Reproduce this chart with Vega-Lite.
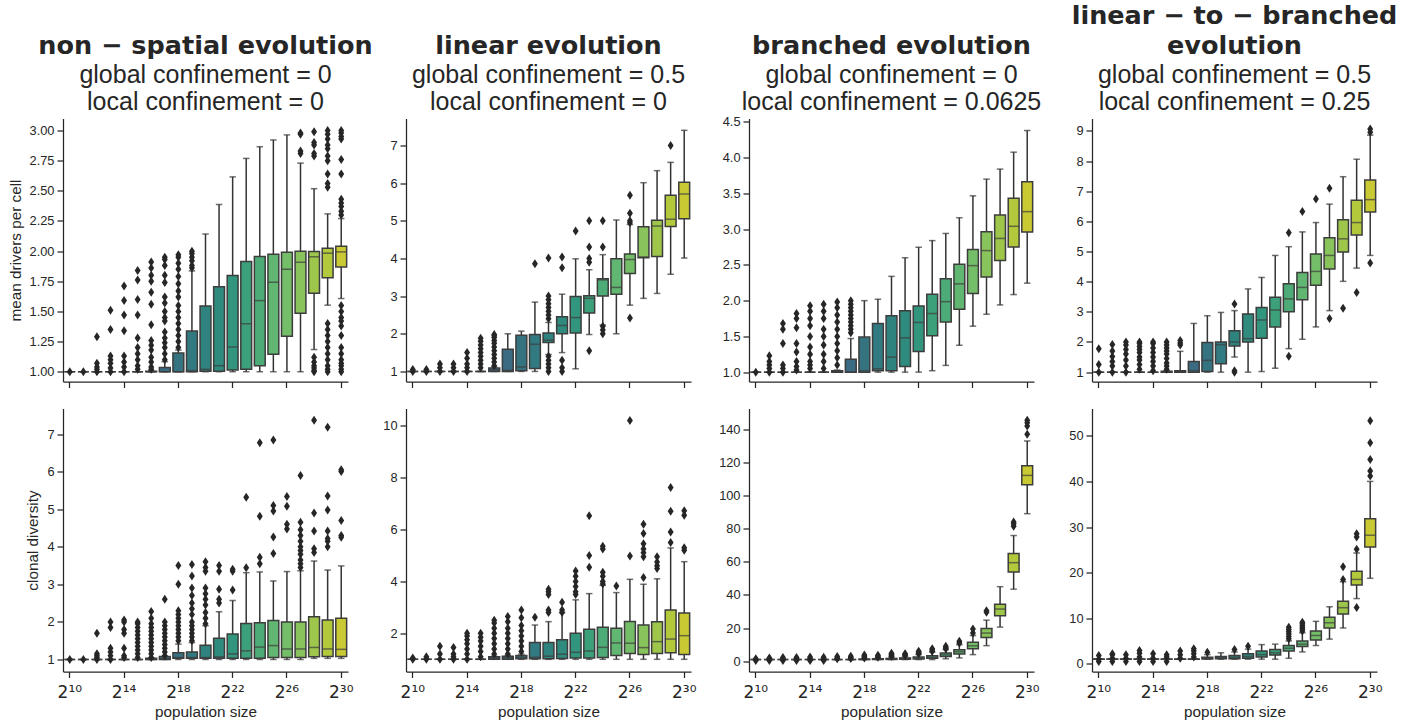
{
"$schema": "https://vega.github.io/schema/vega-lite/v6.json",
"background": "white",
"padding": {"left": 8, "top": 3.5, "right": 5, "bottom": 2},
"columns": 4,
"spacing": {"row": 27, "column": 58},
"bounds": "flush",
"resolve": {"scale": {"x": "independent", "y": "independent"}},
"config": {
 "font": "Liberation Sans",
 "view": {"stroke": null},
 "axis": {"grid": false, "labelOverlap": false, "domainColor": "#262626", "tickColor": "#262626", "labelColor": "#262626", "titleColor": "#262626", "domainWidth": 1.25, "tickWidth": 1.25, "tickSize": 6, "labelFont": "Liberation Sans", "titleFont": "Liberation Sans", "titleFontWeight": "normal", "labelFontSize": 12.8, "titleFontSize": 15.3},
 "axisY": {"labelPadding": 3, "titlePadding": 6},
 "axisX": {"labelPadding": 7, "titlePadding": 4},
 "title": {"font": "DejaVu Sans", "fontSize": 25.5, "fontWeight": "bold", "color": "#262626", "lineHeight": 30, "subtitleFont": "Liberation Sans", "subtitleFontSize": 25, "subtitleColor": "#262626", "subtitleLineHeight": 27, "subtitlePadding": 3, "offset": 0, "anchor": "middle", "frame": "group"}
},
"datasets": {
"boxes": [
{"p":1,"n":10,"lo":1,"q1":1,"md":1,"q3":1,"hi":1},{"p":1,"n":11,"lo":1,"q1":1,"md":1,"q3":1,"hi":1},{"p":1,"n":12,"lo":1,"q1":1,"md":1,"q3":1,"hi":1},{"p":1,"n":13,"lo":1,"q1":1,"md":1,"q3":1,"hi":1},{"p":1,"n":14,"lo":1,"q1":1,"md":1,"q3":1,"hi":1},{"p":1,"n":15,"lo":1,"q1":1,"md":1,"q3":1,"hi":1},{"p":1,"n":16,"lo":1,"q1":1,"md":1,"q3":1.003,"hi":1.01},{"p":1,"n":17,"lo":1,"q1":1,"md":1,"q3":1.036,"hi":1.084},{"p":1,"n":18,"lo":1,"q1":1,"md":1,"q3":1.155,"hi":1.18},{"p":1,"n":19,"lo":1,"q1":1,"md":1.01,"q3":1.337,"hi":1.836},{"p":1,"n":20,"lo":1,"q1":1.005,"md":1.02,"q3":1.545,"hi":2.142},{"p":1,"n":21,"lo":1,"q1":1.005,"md":1.05,"q3":1.705,"hi":2.387},{"p":1,"n":22,"lo":1,"q1":1.015,"md":1.205,"q3":1.797,"hi":2.616},{"p":1,"n":23,"lo":1,"q1":1.02,"md":1.398,"q3":1.914,"hi":2.769},{"p":1,"n":24,"lo":1,"q1":1.05,"md":1.59,"q3":1.955,"hi":2.866},{"p":1,"n":25,"lo":1,"q1":1.145,"md":1.742,"q3":1.975,"hi":2.922},{"p":1,"n":26,"lo":1,"q1":1.295,"md":1.85,"q3":1.99,"hi":2.964},{"p":1,"n":27,"lo":1,"q1":1.485,"md":1.908,"q3":2.0,"hi":2.73},{"p":1,"n":28,"lo":1.184,"q1":1.65,"md":1.953,"q3":1.997,"hi":2.518},{"p":1,"n":29,"lo":1.552,"q1":1.78,"md":1.983,"q3":2.025,"hi":2.309},{"p":1,"n":30,"lo":1.607,"q1":1.869,"md":1.994,"q3":2.04,"hi":2.27},
{"p":2,"n":10,"lo":1,"q1":1,"md":1,"q3":1,"hi":1},{"p":2,"n":11,"lo":1,"q1":1,"md":1,"q3":1,"hi":1},{"p":2,"n":12,"lo":1,"q1":1,"md":1,"q3":1,"hi":1},{"p":2,"n":13,"lo":1,"q1":1,"md":1,"q3":1,"hi":1},{"p":2,"n":14,"lo":1,"q1":1,"md":1,"q3":1,"hi":1},{"p":2,"n":15,"lo":1,"q1":1,"md":1,"q3":1,"hi":1},{"p":2,"n":16,"lo":1,"q1":1,"md":1.04,"q3":1.09,"hi":1.12},{"p":2,"n":17,"lo":1,"q1":1,"md":1.03,"q3":1.59,"hi":2.0},{"p":2,"n":18,"lo":1,"q1":1.02,"md":1.12,"q3":1.96,"hi":2.07},{"p":2,"n":19,"lo":1,"q1":1.08,"md":1.72,"q3":1.98,"hi":2.84},{"p":2,"n":20,"lo":1.45,"q1":1.77,"md":1.83,"q3":2.02,"hi":2.3},{"p":2,"n":21,"lo":1.5,"q1":2.0,"md":2.22,"q3":2.45,"hi":3.05},{"p":2,"n":22,"lo":1.07,"q1":2.02,"md":2.43,"q3":2.99,"hi":3.99},{"p":2,"n":23,"lo":1.98,"q1":2.55,"md":2.94,"q3":3.01,"hi":3.7},{"p":2,"n":24,"lo":2.23,"q1":3.0,"md":3.43,"q3":3.46,"hi":4.1},{"p":2,"n":25,"lo":2.0,"q1":3.05,"md":3.23,"q3":3.99,"hi":5.02},{"p":2,"n":26,"lo":2.76,"q1":3.6,"md":3.97,"q3":4.12,"hi":4.9},{"p":2,"n":27,"lo":2.94,"q1":4.02,"md":4.04,"q3":4.84,"hi":6.01},{"p":2,"n":28,"lo":3.07,"q1":4.05,"md":4.86,"q3":5.01,"hi":6.33},{"p":2,"n":29,"lo":3.58,"q1":4.85,"md":5.04,"q3":5.68,"hi":6.55},{"p":2,"n":30,"lo":4.01,"q1":5.05,"md":5.71,"q3":6.02,"hi":7.4},
{"p":3,"n":10,"lo":1,"q1":1,"md":1,"q3":1,"hi":1},{"p":3,"n":11,"lo":1,"q1":1,"md":1,"q3":1,"hi":1},{"p":3,"n":12,"lo":1,"q1":1,"md":1,"q3":1,"hi":1},{"p":3,"n":13,"lo":1,"q1":1,"md":1,"q3":1,"hi":1},{"p":3,"n":14,"lo":1,"q1":1,"md":1,"q3":1,"hi":1},{"p":3,"n":15,"lo":1,"q1":1,"md":1,"q3":1,"hi":1},{"p":3,"n":16,"lo":1,"q1":1,"md":1,"q3":1.02,"hi":1.03},{"p":3,"n":17,"lo":1,"q1":1,"md":1,"q3":1.18,"hi":1.47},{"p":3,"n":18,"lo":1,"q1":1,"md":1.02,"q3":1.49,"hi":2.0},{"p":3,"n":19,"lo":1,"q1":1.02,"md":1.047,"q3":1.68,"hi":2.02},{"p":3,"n":20,"lo":1,"q1":1.02,"md":1.21,"q3":1.79,"hi":2.34},{"p":3,"n":21,"lo":1,"q1":1.08,"md":1.48,"q3":1.86,"hi":2.6},{"p":3,"n":22,"lo":1,"q1":1.29,"md":1.695,"q3":1.925,"hi":2.747},{"p":3,"n":23,"lo":1.02,"q1":1.51,"md":1.82,"q3":2.09,"hi":2.84},{"p":3,"n":24,"lo":1.094,"q1":1.7,"md":1.986,"q3":2.305,"hi":2.94},{"p":3,"n":25,"lo":1.376,"q1":1.88,"md":2.235,"q3":2.51,"hi":3.16},{"p":3,"n":26,"lo":1.643,"q1":2.1,"md":2.49,"q3":2.714,"hi":3.466},{"p":3,"n":27,"lo":1.81,"q1":2.33,"md":2.7,"q3":2.963,"hi":3.7},{"p":3,"n":28,"lo":1.94,"q1":2.56,"md":2.87,"q3":3.198,"hi":3.84},{"p":3,"n":29,"lo":2.085,"q1":2.75,"md":3.04,"q3":3.433,"hi":4.077},{"p":3,"n":30,"lo":2.245,"q1":2.959,"md":3.245,"q3":3.663,"hi":4.38},
{"p":4,"n":10,"lo":1,"q1":1,"md":1,"q3":1,"hi":1},{"p":4,"n":11,"lo":1,"q1":1,"md":1,"q3":1,"hi":1},{"p":4,"n":12,"lo":1,"q1":1,"md":1,"q3":1,"hi":1},{"p":4,"n":13,"lo":1,"q1":1,"md":1,"q3":1,"hi":1},{"p":4,"n":14,"lo":1,"q1":1,"md":1,"q3":1,"hi":1},{"p":4,"n":15,"lo":1,"q1":1,"md":1,"q3":1.03,"hi":1.05},{"p":4,"n":16,"lo":1,"q1":1,"md":1.02,"q3":1.05,"hi":1.69},{"p":4,"n":17,"lo":1,"q1":1,"md":1.05,"q3":1.356,"hi":2.615},{"p":4,"n":18,"lo":1,"q1":1.02,"md":1.39,"q3":1.98,"hi":2.87},{"p":4,"n":19,"lo":1,"q1":1.28,"md":1.91,"q3":2.0,"hi":2.98},{"p":4,"n":20,"lo":1.5,"q1":1.87,"md":2.0,"q3":2.37,"hi":3.04},{"p":4,"n":21,"lo":1,"q1":2.0,"md":2.11,"q3":2.93,"hi":3.76},{"p":4,"n":22,"lo":1.02,"q1":2.12,"md":2.73,"q3":3.14,"hi":4.14},{"p":4,"n":23,"lo":1.13,"q1":2.5,"md":3.06,"q3":3.48,"hi":4.87},{"p":4,"n":24,"lo":1.78,"q1":3.0,"md":3.43,"q3":3.93,"hi":5.16},{"p":4,"n":25,"lo":2.09,"q1":3.4,"md":3.81,"q3":4.3,"hi":5.65},{"p":4,"n":26,"lo":2.5,"q1":3.88,"md":4.34,"q3":4.92,"hi":5.96},{"p":4,"n":27,"lo":3.04,"q1":4.42,"md":4.87,"q3":5.46,"hi":6.57},{"p":4,"n":28,"lo":4.01,"q1":4.98,"md":5.42,"q3":6.05,"hi":7.48},{"p":4,"n":29,"lo":4.45,"q1":5.55,"md":5.96,"q3":6.7,"hi":8.06},{"p":4,"n":30,"lo":4.87,"q1":6.31,"md":6.72,"q3":7.37,"hi":8.86},
{"p":5,"n":10,"lo":1,"q1":1,"md":1,"q3":1,"hi":1},{"p":5,"n":11,"lo":1,"q1":1,"md":1,"q3":1,"hi":1},{"p":5,"n":12,"lo":1,"q1":1,"md":1,"q3":1,"hi":1},{"p":5,"n":13,"lo":1,"q1":1,"md":1,"q3":1,"hi":1},{"p":5,"n":14,"lo":1,"q1":1,"md":1,"q3":1,"hi":1},{"p":5,"n":15,"lo":1,"q1":1,"md":1,"q3":1,"hi":1},{"p":5,"n":16,"lo":1,"q1":1,"md":1,"q3":1.03,"hi":1.04},{"p":5,"n":17,"lo":1,"q1":1,"md":1.02,"q3":1.08,"hi":1.09},{"p":5,"n":18,"lo":1,"q1":1.03,"md":1.05,"q3":1.18,"hi":1.41},{"p":5,"n":19,"lo":1,"q1":1.03,"md":1.05,"q3":1.2,"hi":1.45},{"p":5,"n":20,"lo":1,"q1":1.03,"md":1.05,"q3":1.38,"hi":1.9},{"p":5,"n":21,"lo":1,"q1":1.03,"md":1.07,"q3":1.565,"hi":2.27},{"p":5,"n":22,"lo":1,"q1":1.03,"md":1.15,"q3":1.68,"hi":2.57},{"p":5,"n":23,"lo":1,"q1":1.03,"md":1.23,"q3":1.96,"hi":3.31},{"p":5,"n":24,"lo":1,"q1":1.03,"md":1.33,"q3":1.98,"hi":3.33},{"p":5,"n":25,"lo":1,"q1":1.05,"md":1.37,"q3":2.04,"hi":3.09},{"p":5,"n":26,"lo":1,"q1":1.05,"md":1.28,"q3":2.0,"hi":3.34},{"p":5,"n":27,"lo":1,"q1":1.05,"md":1.28,"q3":2.0,"hi":3.36},{"p":5,"n":28,"lo":1.03,"q1":1.07,"md":1.32,"q3":2.14,"hi":3.62},{"p":5,"n":29,"lo":1.03,"q1":1.08,"md":1.28,"q3":2.05,"hi":3.38},{"p":5,"n":30,"lo":1.03,"q1":1.08,"md":1.27,"q3":2.1,"hi":3.49},
{"p":6,"n":10,"lo":1,"q1":1,"md":1,"q3":1,"hi":1},{"p":6,"n":11,"lo":1,"q1":1,"md":1,"q3":1,"hi":1},{"p":6,"n":12,"lo":1,"q1":1,"md":1,"q3":1,"hi":1},{"p":6,"n":13,"lo":1,"q1":1,"md":1,"q3":1,"hi":1},{"p":6,"n":14,"lo":1,"q1":1,"md":1,"q3":1,"hi":1},{"p":6,"n":15,"lo":1,"q1":1,"md":1,"q3":1,"hi":1},{"p":6,"n":16,"lo":1,"q1":1,"md":1.05,"q3":1.1,"hi":1.12},{"p":6,"n":17,"lo":1,"q1":1,"md":1.06,"q3":1.12,"hi":1.15},{"p":6,"n":18,"lo":1,"q1":1.02,"md":1.08,"q3":1.15,"hi":1.2},{"p":6,"n":19,"lo":1,"q1":1.02,"md":1.08,"q3":1.65,"hi":2.32},{"p":6,"n":20,"lo":1,"q1":1.02,"md":1.12,"q3":1.65,"hi":2.45},{"p":6,"n":21,"lo":1,"q1":1.03,"md":1.2,"q3":1.75,"hi":2.8},{"p":6,"n":22,"lo":1,"q1":1.05,"md":1.27,"q3":2.0,"hi":3.29},{"p":6,"n":23,"lo":1,"q1":1.05,"md":1.32,"q3":2.16,"hi":3.53},{"p":6,"n":24,"lo":1,"q1":1.07,"md":1.46,"q3":2.23,"hi":3.85},{"p":6,"n":25,"lo":1,"q1":1.15,"md":1.63,"q3":2.2,"hi":3.57},{"p":6,"n":26,"lo":1,"q1":1.22,"md":1.62,"q3":2.46,"hi":4.08},{"p":6,"n":27,"lo":1,"q1":1.18,"md":1.45,"q3":2.32,"hi":3.89},{"p":6,"n":28,"lo":1,"q1":1.22,"md":1.68,"q3":2.45,"hi":4.1},{"p":6,"n":29,"lo":1,"q1":1.25,"md":1.78,"q3":2.9,"hi":5.29},{"p":6,"n":30,"lo":1,"q1":1.18,"md":1.91,"q3":2.78,"hi":4.76},
{"p":7,"n":10,"lo":1,"q1":1,"md":1,"q3":1,"hi":1},{"p":7,"n":11,"lo":1,"q1":1,"md":1,"q3":1,"hi":1},{"p":7,"n":12,"lo":1,"q1":1,"md":1,"q3":1,"hi":1},{"p":7,"n":13,"lo":1,"q1":1,"md":1,"q3":1,"hi":1},{"p":7,"n":14,"lo":1,"q1":1,"md":1,"q3":1,"hi":1},{"p":7,"n":15,"lo":1,"q1":1,"md":1,"q3":1,"hi":1},{"p":7,"n":16,"lo":1,"q1":1,"md":1,"q3":1,"hi":1},{"p":7,"n":17,"lo":1,"q1":1,"md":1,"q3":1,"hi":1},{"p":7,"n":18,"lo":1,"q1":1,"md":1.1,"q3":1.3,"hi":1.6},{"p":7,"n":19,"lo":1,"q1":1.05,"md":1.2,"q3":1.5,"hi":2.0},{"p":7,"n":20,"lo":1,"q1":1.1,"md":1.3,"q3":1.7,"hi":2.5},{"p":7,"n":21,"lo":1,"q1":1.2,"md":1.5,"q3":2.0,"hi":3.0},{"p":7,"n":22,"lo":1,"q1":1.4,"md":1.8,"q3":2.5,"hi":4.0},{"p":7,"n":23,"lo":1,"q1":1.8,"md":2.4,"q3":3.3,"hi":5.5},{"p":7,"n":24,"lo":1.5,"q1":2.8,"md":3.8,"q3":5.0,"hi":7.0},{"p":7,"n":25,"lo":2.0,"q1":4.4,"md":5.7,"q3":7.0,"hi":10.0},{"p":7,"n":26,"lo":4.0,"q1":7.5,"md":9.3,"q3":11.4,"hi":15.5},{"p":7,"n":27,"lo":9.4,"q1":14.4,"md":17.0,"q3":19.8,"hi":24.8},{"p":7,"n":28,"lo":20.6,"q1":27.4,"md":31.5,"q3":34.4,"hi":45.0},{"p":7,"n":29,"lo":43.5,"q1":53.9,"md":59.5,"q3":65.1,"hi":75.9},{"p":7,"n":30,"lo":89.1,"q1":106.5,"md":112.2,"q3":118.0,"hi":133.0},
{"p":8,"n":10,"lo":1,"q1":1,"md":1,"q3":1.05,"hi":1.1},{"p":8,"n":11,"lo":1,"q1":1,"md":1,"q3":1.05,"hi":1.1},{"p":8,"n":12,"lo":1,"q1":1,"md":1,"q3":1.05,"hi":1.1},{"p":8,"n":13,"lo":1,"q1":1,"md":1,"q3":1.05,"hi":1.1},{"p":8,"n":14,"lo":1,"q1":1,"md":1,"q3":1.05,"hi":1.1},{"p":8,"n":15,"lo":1,"q1":1,"md":1,"q3":1.05,"hi":1.1},{"p":8,"n":16,"lo":1,"q1":1,"md":1,"q3":1.05,"hi":1.1},{"p":8,"n":17,"lo":1,"q1":1,"md":1,"q3":1.05,"hi":1.1},{"p":8,"n":18,"lo":1,"q1":1.05,"md":1.2,"q3":1.4,"hi":2.0},{"p":8,"n":19,"lo":1,"q1":1.1,"md":1.3,"q3":1.6,"hi":2.4},{"p":8,"n":20,"lo":1,"q1":1.1,"md":1.4,"q3":1.8,"hi":2.6},{"p":8,"n":21,"lo":1,"q1":1.2,"md":1.6,"q3":2.2,"hi":3.2},{"p":8,"n":22,"lo":1,"q1":1.5,"md":2.0,"q3":2.8,"hi":4.2},{"p":8,"n":23,"lo":1,"q1":1.9,"md":2.4,"q3":3.1,"hi":4.3},{"p":8,"n":24,"lo":1.2,"q1":2.8,"md":3.4,"q3":4.0,"hi":5.0},{"p":8,"n":25,"lo":2.6,"q1":3.8,"md":4.3,"q3":5.0,"hi":6.8},{"p":8,"n":26,"lo":4.0,"q1":5.2,"md":6.2,"q3":7.2,"hi":9.3},{"p":8,"n":27,"lo":5.4,"q1":7.85,"md":9.0,"q3":10.2,"hi":12.5},{"p":8,"n":28,"lo":7.85,"q1":10.9,"md":12.3,"q3":13.7,"hi":18.0},{"p":8,"n":29,"lo":14.3,"q1":17.3,"md":18.5,"q3":20.3,"hi":24.3},{"p":8,"n":30,"lo":18.75,"q1":25.6,"md":28.2,"q3":31.8,"hi":40.0}
],
"out": [
{"p":1,"n":10,"v":1.0},{"p":1,"n":11,"v":1.0},
{"p":1,"n":12,"v":1.0},{"p":1,"n":12,"v":1.02},{"p":1,"n":12,"v":1.04},{"p":1,"n":12,"v":1.07},{"p":1,"n":12,"v":1.29},
{"p":1,"n":13,"v":1.0},{"p":1,"n":13,"v":1.03},{"p":1,"n":13,"v":1.07},{"p":1,"n":13,"v":1.1},{"p":1,"n":13,"v":1.13},{"p":1,"n":13,"v":1.35},{"p":1,"n":13,"v":1.51},
{"p":1,"n":14,"v":1.0},{"p":1,"n":14,"v":1.04},{"p":1,"n":14,"v":1.08},{"p":1,"n":14,"v":1.13},{"p":1,"n":14,"v":1.34},{"p":1,"n":14,"v":1.47},{"p":1,"n":14,"v":1.59},{"p":1,"n":14,"v":1.71},
{"p":1,"n":15,"v":1.02},{"p":1,"n":15,"v":1.05},{"p":1,"n":15,"v":1.1},{"p":1,"n":15,"v":1.15},{"p":1,"n":15,"v":1.2},{"p":1,"n":15,"v":1.28},{"p":1,"n":15,"v":1.47},{"p":1,"n":15,"v":1.6},{"p":1,"n":15,"v":1.76},{"p":1,"n":15,"v":1.84},
{"p":1,"n":16,"v":1.02},{"p":1,"n":16,"v":1.04},{"p":1,"n":16,"v":1.08},{"p":1,"n":16,"v":1.12},{"p":1,"n":16,"v":1.18},{"p":1,"n":16,"v":1.22},{"p":1,"n":16,"v":1.26},{"p":1,"n":16,"v":1.39},{"p":1,"n":16,"v":1.56},{"p":1,"n":16,"v":1.66},{"p":1,"n":16,"v":1.75},{"p":1,"n":16,"v":1.8},{"p":1,"n":16,"v":1.86},{"p":1,"n":16,"v":1.91},
{"p":1,"n":17,"v":1.1},{"p":1,"n":17,"v":1.15},{"p":1,"n":17,"v":1.2},{"p":1,"n":17,"v":1.24},{"p":1,"n":17,"v":1.28},{"p":1,"n":17,"v":1.33},{"p":1,"n":17,"v":1.42},{"p":1,"n":17,"v":1.45},{"p":1,"n":17,"v":1.5},{"p":1,"n":17,"v":1.57},{"p":1,"n":17,"v":1.62},{"p":1,"n":17,"v":1.74},{"p":1,"n":17,"v":1.8},{"p":1,"n":17,"v":1.88},{"p":1,"n":17,"v":1.93},{"p":1,"n":17,"v":1.95},
{"p":1,"n":18,"v":1.2},{"p":1,"n":18,"v":1.25},{"p":1,"n":18,"v":1.3},{"p":1,"n":18,"v":1.35},{"p":1,"n":18,"v":1.4},{"p":1,"n":18,"v":1.45},{"p":1,"n":18,"v":1.5},{"p":1,"n":18,"v":1.55},{"p":1,"n":18,"v":1.62},{"p":1,"n":18,"v":1.67},{"p":1,"n":18,"v":1.73},{"p":1,"n":18,"v":1.79},{"p":1,"n":18,"v":1.85},{"p":1,"n":18,"v":1.9},{"p":1,"n":18,"v":1.95},{"p":1,"n":18,"v":1.97},
{"p":1,"n":19,"v":1.86},{"p":1,"n":19,"v":1.88},{"p":1,"n":19,"v":1.92},{"p":1,"n":19,"v":1.95},{"p":1,"n":19,"v":1.98},{"p":1,"n":19,"v":2.0},
{"p":1,"n":27,"v":2.81},{"p":1,"n":27,"v":2.83},{"p":1,"n":27,"v":2.97},{"p":1,"n":27,"v":2.98},
{"p":1,"n":28,"v":2.79},{"p":1,"n":28,"v":2.81},{"p":1,"n":28,"v":2.88},{"p":1,"n":28,"v":2.9},{"p":1,"n":28,"v":2.99},{"p":1,"n":28,"v":1.12},{"p":1,"n":28,"v":1.08},{"p":1,"n":28,"v":1.05},{"p":1,"n":28,"v":1.03},{"p":1,"n":28,"v":1.01},{"p":1,"n":28,"v":1.0},
{"p":1,"n":29,"v":2.53},{"p":1,"n":29,"v":2.56},{"p":1,"n":29,"v":2.64},{"p":1,"n":29,"v":2.75},{"p":1,"n":29,"v":2.79},{"p":1,"n":29,"v":2.85},{"p":1,"n":29,"v":2.88},{"p":1,"n":29,"v":2.93},{"p":1,"n":29,"v":2.97},{"p":1,"n":29,"v":3.0},{"p":1,"n":29,"v":1.4},{"p":1,"n":29,"v":1.35},{"p":1,"n":29,"v":1.3},{"p":1,"n":29,"v":1.25},{"p":1,"n":29,"v":1.2},{"p":1,"n":29,"v":1.15},{"p":1,"n":29,"v":1.1},{"p":1,"n":29,"v":1.05},{"p":1,"n":29,"v":1.02},{"p":1,"n":29,"v":1.0},
{"p":1,"n":30,"v":2.3},{"p":1,"n":30,"v":2.33},{"p":1,"n":30,"v":2.37},{"p":1,"n":30,"v":2.4},{"p":1,"n":30,"v":2.43},{"p":1,"n":30,"v":2.64},{"p":1,"n":30,"v":2.76},{"p":1,"n":30,"v":2.93},{"p":1,"n":30,"v":2.95},{"p":1,"n":30,"v":2.98},{"p":1,"n":30,"v":3.0},{"p":1,"n":30,"v":1.55},{"p":1,"n":30,"v":1.5},{"p":1,"n":30,"v":1.45},{"p":1,"n":30,"v":1.42},{"p":1,"n":30,"v":1.38},{"p":1,"n":30,"v":1.3},{"p":1,"n":30,"v":1.2},{"p":1,"n":30,"v":1.15},{"p":1,"n":30,"v":1.1},{"p":1,"n":30,"v":1.07},{"p":1,"n":30,"v":1.05},{"p":1,"n":30,"v":1.02},{"p":1,"n":30,"v":1.0},
{"p":2,"n":10,"v":1.0},{"p":2,"n":10,"v":1.05},{"p":2,"n":11,"v":1.0},{"p":2,"n":11,"v":1.05},
{"p":2,"n":12,"v":1.0},{"p":2,"n":12,"v":1.1},{"p":2,"n":12,"v":1.2},
{"p":2,"n":13,"v":1.0},{"p":2,"n":13,"v":1.1},{"p":2,"n":13,"v":1.2},
{"p":2,"n":14,"v":1.0},{"p":2,"n":14,"v":1.1},{"p":2,"n":14,"v":1.2},{"p":2,"n":14,"v":1.35},{"p":2,"n":14,"v":1.5},
{"p":2,"n":15,"v":1.1},{"p":2,"n":15,"v":1.2},{"p":2,"n":15,"v":1.3},{"p":2,"n":15,"v":1.4},{"p":2,"n":15,"v":1.5},{"p":2,"n":15,"v":1.6},{"p":2,"n":15,"v":1.7},{"p":2,"n":15,"v":1.8},{"p":2,"n":15,"v":1.88},
{"p":2,"n":16,"v":1.15},{"p":2,"n":16,"v":1.25},{"p":2,"n":16,"v":1.35},{"p":2,"n":16,"v":1.45},{"p":2,"n":16,"v":1.55},{"p":2,"n":16,"v":1.65},{"p":2,"n":16,"v":1.75},{"p":2,"n":16,"v":1.82},{"p":2,"n":16,"v":1.9},{"p":2,"n":16,"v":1.95},{"p":2,"n":16,"v":1.98},
{"p":2,"n":19,"v":3.86},
{"p":2,"n":20,"v":2.4},{"p":2,"n":20,"v":2.5},{"p":2,"n":20,"v":2.6},{"p":2,"n":20,"v":2.7},{"p":2,"n":20,"v":2.8},{"p":2,"n":20,"v":2.9},{"p":2,"n":20,"v":3.0},{"p":2,"n":20,"v":4.01},{"p":2,"n":20,"v":1.4},{"p":2,"n":20,"v":1.3},{"p":2,"n":20,"v":1.2},{"p":2,"n":20,"v":1.1},{"p":2,"n":20,"v":1.0},
{"p":2,"n":21,"v":3.75},{"p":2,"n":21,"v":4.04},{"p":2,"n":21,"v":1.3},{"p":2,"n":21,"v":1.1},{"p":2,"n":21,"v":1.0},
{"p":2,"n":22,"v":4.73},
{"p":2,"n":23,"v":3.9},{"p":2,"n":23,"v":4.0},{"p":2,"n":23,"v":4.3},{"p":2,"n":23,"v":5.0},{"p":2,"n":23,"v":1.55},
{"p":2,"n":24,"v":4.3},{"p":2,"n":24,"v":5.0},{"p":2,"n":24,"v":2.2},{"p":2,"n":24,"v":2.1},{"p":2,"n":24,"v":2.0},
{"p":2,"n":26,"v":4.95},{"p":2,"n":26,"v":5.0},{"p":2,"n":26,"v":5.2},{"p":2,"n":26,"v":5.68},{"p":2,"n":26,"v":2.42},
{"p":2,"n":29,"v":7.0},
{"p":3,"n":10,"v":1.0},
{"p":3,"n":11,"v":1.0},{"p":3,"n":11,"v":1.05},{"p":3,"n":11,"v":1.1},{"p":3,"n":11,"v":1.15},{"p":3,"n":11,"v":1.23},
{"p":3,"n":12,"v":1.0},{"p":3,"n":12,"v":1.05},{"p":3,"n":12,"v":1.1},{"p":3,"n":12,"v":1.4},{"p":3,"n":12,"v":1.6},{"p":3,"n":12,"v":1.68},
{"p":3,"n":13,"v":1.03},{"p":3,"n":13,"v":1.08},{"p":3,"n":13,"v":1.15},{"p":3,"n":13,"v":1.28},{"p":3,"n":13,"v":1.4},{"p":3,"n":13,"v":1.62},{"p":3,"n":13,"v":1.75},{"p":3,"n":13,"v":1.82},
{"p":3,"n":14,"v":1.05},{"p":3,"n":14,"v":1.1},{"p":3,"n":14,"v":1.15},{"p":3,"n":14,"v":1.25},{"p":3,"n":14,"v":1.35},{"p":3,"n":14,"v":1.5},{"p":3,"n":14,"v":1.65},{"p":3,"n":14,"v":1.75},{"p":3,"n":14,"v":1.85},{"p":3,"n":14,"v":1.93},
{"p":3,"n":15,"v":1.05},{"p":3,"n":15,"v":1.15},{"p":3,"n":15,"v":1.25},{"p":3,"n":15,"v":1.38},{"p":3,"n":15,"v":1.5},{"p":3,"n":15,"v":1.6},{"p":3,"n":15,"v":1.75},{"p":3,"n":15,"v":1.85},{"p":3,"n":15,"v":1.95},
{"p":3,"n":16,"v":1.1},{"p":3,"n":16,"v":1.2},{"p":3,"n":16,"v":1.3},{"p":3,"n":16,"v":1.4},{"p":3,"n":16,"v":1.5},{"p":3,"n":16,"v":1.6},{"p":3,"n":16,"v":1.7},{"p":3,"n":16,"v":1.8},{"p":3,"n":16,"v":1.9},{"p":3,"n":16,"v":1.98},
{"p":3,"n":17,"v":1.55},{"p":3,"n":17,"v":1.6},{"p":3,"n":17,"v":1.65},{"p":3,"n":17,"v":1.7},{"p":3,"n":17,"v":1.75},{"p":3,"n":17,"v":1.8},{"p":3,"n":17,"v":1.85},{"p":3,"n":17,"v":1.9},{"p":3,"n":17,"v":1.95},{"p":3,"n":17,"v":2.0},
{"p":4,"n":10,"v":1.0},{"p":4,"n":10,"v":1.25},{"p":4,"n":10,"v":1.78},
{"p":4,"n":11,"v":1.0},{"p":4,"n":11,"v":1.2},{"p":4,"n":11,"v":1.35},{"p":4,"n":11,"v":1.52},{"p":4,"n":11,"v":1.7},{"p":4,"n":11,"v":1.92},
{"p":4,"n":12,"v":1.0},{"p":4,"n":12,"v":1.2},{"p":4,"n":12,"v":1.4},{"p":4,"n":12,"v":1.6},{"p":4,"n":12,"v":1.75},{"p":4,"n":12,"v":1.9},{"p":4,"n":12,"v":2.0},
{"p":4,"n":13,"v":1.1},{"p":4,"n":13,"v":1.25},{"p":4,"n":13,"v":1.4},{"p":4,"n":13,"v":1.5},{"p":4,"n":13,"v":1.65},{"p":4,"n":13,"v":1.75},{"p":4,"n":13,"v":1.85},{"p":4,"n":13,"v":1.95},{"p":4,"n":13,"v":2.0},
{"p":4,"n":14,"v":1.05},{"p":4,"n":14,"v":1.2},{"p":4,"n":14,"v":1.35},{"p":4,"n":14,"v":1.5},{"p":4,"n":14,"v":1.65},{"p":4,"n":14,"v":1.8},{"p":4,"n":14,"v":1.95},{"p":4,"n":14,"v":2.0},
{"p":4,"n":15,"v":1.1},{"p":4,"n":15,"v":1.2},{"p":4,"n":15,"v":1.3},{"p":4,"n":15,"v":1.45},{"p":4,"n":15,"v":1.6},{"p":4,"n":15,"v":1.7},{"p":4,"n":15,"v":1.8},{"p":4,"n":15,"v":1.9},{"p":4,"n":15,"v":2.0},
{"p":4,"n":16,"v":1.9},{"p":4,"n":16,"v":1.97},{"p":4,"n":16,"v":2.05},
{"p":4,"n":20,"v":3.26},{"p":4,"n":20,"v":1.0},{"p":4,"n":20,"v":1.05},
{"p":4,"n":24,"v":5.62},{"p":4,"n":24,"v":1.53},
{"p":4,"n":25,"v":6.33},{"p":4,"n":26,"v":6.74},
{"p":4,"n":27,"v":7.1},{"p":4,"n":27,"v":2.78},
{"p":4,"n":28,"v":3.12},{"p":4,"n":29,"v":3.64},
{"p":4,"n":30,"v":9.06},{"p":4,"n":30,"v":8.95},{"p":4,"n":30,"v":4.62},
{"p":5,"n":10,"v":1.0},{"p":5,"n":11,"v":1.0},
{"p":5,"n":12,"v":1.0},{"p":5,"n":12,"v":1.05},{"p":5,"n":12,"v":1.1},{"p":5,"n":12,"v":1.15},{"p":5,"n":12,"v":1.7},
{"p":5,"n":13,"v":1.0},{"p":5,"n":13,"v":1.1},{"p":5,"n":13,"v":1.2},{"p":5,"n":13,"v":1.3},{"p":5,"n":13,"v":1.85},{"p":5,"n":13,"v":2.0},
{"p":5,"n":14,"v":1.05},{"p":5,"n":14,"v":1.1},{"p":5,"n":14,"v":1.3},{"p":5,"n":14,"v":1.7},{"p":5,"n":14,"v":1.8},{"p":5,"n":14,"v":2.0},{"p":5,"n":14,"v":2.05},
{"p":5,"n":15,"v":1.05},{"p":5,"n":15,"v":1.15},{"p":5,"n":15,"v":1.25},{"p":5,"n":15,"v":1.35},{"p":5,"n":15,"v":1.45},{"p":5,"n":15,"v":1.55},{"p":5,"n":15,"v":1.65},{"p":5,"n":15,"v":1.75},{"p":5,"n":15,"v":1.85},{"p":5,"n":15,"v":1.95},{"p":5,"n":15,"v":2.0},
{"p":5,"n":16,"v":1.05},{"p":5,"n":16,"v":1.15},{"p":5,"n":16,"v":1.25},{"p":5,"n":16,"v":1.35},{"p":5,"n":16,"v":1.45},{"p":5,"n":16,"v":1.55},{"p":5,"n":16,"v":1.65},{"p":5,"n":16,"v":1.75},{"p":5,"n":16,"v":1.85},{"p":5,"n":16,"v":1.95},{"p":5,"n":16,"v":2.1},{"p":5,"n":16,"v":2.28},
{"p":5,"n":17,"v":1.1},{"p":5,"n":17,"v":1.2},{"p":5,"n":17,"v":1.3},{"p":5,"n":17,"v":1.4},{"p":5,"n":17,"v":1.5},{"p":5,"n":17,"v":1.6},{"p":5,"n":17,"v":1.7},{"p":5,"n":17,"v":1.8},{"p":5,"n":17,"v":1.9},{"p":5,"n":17,"v":2.0},{"p":5,"n":17,"v":2.6},
{"p":5,"n":18,"v":1.5},{"p":5,"n":18,"v":1.6},{"p":5,"n":18,"v":1.7},{"p":5,"n":18,"v":1.8},{"p":5,"n":18,"v":1.9},{"p":5,"n":18,"v":2.0},{"p":5,"n":18,"v":2.1},{"p":5,"n":18,"v":2.2},{"p":5,"n":18,"v":2.3},{"p":5,"n":18,"v":3.0},{"p":5,"n":18,"v":3.5},
{"p":5,"n":19,"v":1.5},{"p":5,"n":19,"v":1.6},{"p":5,"n":19,"v":1.7},{"p":5,"n":19,"v":1.8},{"p":5,"n":19,"v":1.9},{"p":5,"n":19,"v":2.0},{"p":5,"n":19,"v":2.2},{"p":5,"n":19,"v":2.35},{"p":5,"n":19,"v":2.5},{"p":5,"n":19,"v":2.7},{"p":5,"n":19,"v":2.9},{"p":5,"n":19,"v":3.22},{"p":5,"n":19,"v":3.53},
{"p":5,"n":20,"v":1.95},{"p":5,"n":20,"v":2.1},{"p":5,"n":20,"v":2.25},{"p":5,"n":20,"v":2.45},{"p":5,"n":20,"v":2.6},{"p":5,"n":20,"v":2.75},{"p":5,"n":20,"v":2.9},{"p":5,"n":20,"v":3.35},{"p":5,"n":20,"v":3.45},{"p":5,"n":20,"v":3.6},
{"p":5,"n":21,"v":2.5},{"p":5,"n":21,"v":2.6},{"p":5,"n":21,"v":2.87},{"p":5,"n":21,"v":3.35},{"p":5,"n":21,"v":3.5},
{"p":5,"n":22,"v":2.85},{"p":5,"n":22,"v":3.35},{"p":5,"n":22,"v":3.4},
{"p":5,"n":23,"v":3.44},{"p":5,"n":23,"v":5.32},
{"p":5,"n":24,"v":3.55},{"p":5,"n":24,"v":3.72},{"p":5,"n":24,"v":4.81},{"p":5,"n":24,"v":6.77},
{"p":5,"n":25,"v":3.82},{"p":5,"n":25,"v":4.26},{"p":5,"n":25,"v":4.95},{"p":5,"n":25,"v":5.1},{"p":5,"n":25,"v":6.84},
{"p":5,"n":26,"v":4.47},{"p":5,"n":26,"v":4.6},{"p":5,"n":26,"v":5.08},{"p":5,"n":26,"v":5.34},
{"p":5,"n":27,"v":3.45},{"p":5,"n":27,"v":3.55},{"p":5,"n":27,"v":3.65},{"p":5,"n":27,"v":3.8},{"p":5,"n":27,"v":3.9},{"p":5,"n":27,"v":4.0},{"p":5,"n":27,"v":4.15},{"p":5,"n":27,"v":4.3},{"p":5,"n":27,"v":4.45},{"p":5,"n":27,"v":4.65},{"p":5,"n":27,"v":5.9},
{"p":5,"n":28,"v":3.85},{"p":5,"n":28,"v":3.95},{"p":5,"n":28,"v":4.42},{"p":5,"n":28,"v":4.9},{"p":5,"n":28,"v":7.37},
{"p":5,"n":29,"v":4.0},{"p":5,"n":29,"v":4.15},{"p":5,"n":29,"v":4.22},{"p":5,"n":29,"v":4.42},{"p":5,"n":29,"v":4.98},{"p":5,"n":29,"v":5.35},{"p":5,"n":29,"v":7.18},
{"p":5,"n":30,"v":4.25},{"p":5,"n":30,"v":4.3},{"p":5,"n":30,"v":4.7},{"p":5,"n":30,"v":6.0},{"p":5,"n":30,"v":6.05},
{"p":6,"n":10,"v":1.0},{"p":6,"n":10,"v":1.05},{"p":6,"n":11,"v":1.0},{"p":6,"n":11,"v":1.1},
{"p":6,"n":12,"v":1.0},{"p":6,"n":12,"v":1.2},{"p":6,"n":12,"v":1.5},
{"p":6,"n":13,"v":1.0},{"p":6,"n":13,"v":1.1},{"p":6,"n":13,"v":1.2},{"p":6,"n":13,"v":1.45},
{"p":6,"n":14,"v":1.0},{"p":6,"n":14,"v":1.2},{"p":6,"n":14,"v":1.4},{"p":6,"n":14,"v":1.6},{"p":6,"n":14,"v":1.75},{"p":6,"n":14,"v":1.9},{"p":6,"n":14,"v":2.0},
{"p":6,"n":15,"v":1.1},{"p":6,"n":15,"v":1.3},{"p":6,"n":15,"v":1.5},{"p":6,"n":15,"v":1.7},{"p":6,"n":15,"v":1.85},{"p":6,"n":15,"v":2.0},
{"p":6,"n":16,"v":1.2},{"p":6,"n":16,"v":1.4},{"p":6,"n":16,"v":1.6},{"p":6,"n":16,"v":1.8},{"p":6,"n":16,"v":2.0},{"p":6,"n":16,"v":2.2},{"p":6,"n":16,"v":2.4},{"p":6,"n":16,"v":2.5},
{"p":6,"n":17,"v":1.2},{"p":6,"n":17,"v":1.4},{"p":6,"n":17,"v":1.6},{"p":6,"n":17,"v":1.8},{"p":6,"n":17,"v":2.0},{"p":6,"n":17,"v":2.2},{"p":6,"n":17,"v":2.45},{"p":6,"n":17,"v":2.65},
{"p":6,"n":18,"v":1.3},{"p":6,"n":18,"v":1.5},{"p":6,"n":18,"v":1.7},{"p":6,"n":18,"v":1.9},{"p":6,"n":18,"v":2.1},{"p":6,"n":18,"v":2.3},{"p":6,"n":18,"v":2.6},{"p":6,"n":18,"v":2.9},
{"p":6,"n":19,"v":2.62},
{"p":6,"n":20,"v":2.8},{"p":6,"n":20,"v":2.9},{"p":6,"n":20,"v":3.5},{"p":6,"n":20,"v":3.6},{"p":6,"n":20,"v":3.7},
{"p":6,"n":21,"v":2.8},{"p":6,"n":21,"v":2.9},{"p":6,"n":21,"v":3.2},
{"p":6,"n":22,"v":3.5},{"p":6,"n":22,"v":3.6},{"p":6,"n":22,"v":3.8},{"p":6,"n":22,"v":4.0},{"p":6,"n":22,"v":4.2},{"p":6,"n":22,"v":4.4},
{"p":6,"n":23,"v":4.55},{"p":6,"n":23,"v":5.0},{"p":6,"n":23,"v":6.53},
{"p":6,"n":24,"v":3.9},{"p":6,"n":24,"v":4.0},{"p":6,"n":24,"v":4.2},{"p":6,"n":24,"v":4.35},{"p":6,"n":24,"v":5.25},{"p":6,"n":24,"v":5.35},
{"p":6,"n":25,"v":3.82},
{"p":6,"n":26,"v":4.98},{"p":6,"n":26,"v":10.2},
{"p":6,"n":27,"v":4.15},{"p":6,"n":27,"v":4.95},{"p":6,"n":27,"v":5.1},{"p":6,"n":27,"v":5.25},{"p":6,"n":27,"v":5.45},{"p":6,"n":27,"v":5.85},{"p":6,"n":27,"v":6.2},
{"p":6,"n":28,"v":4.5},{"p":6,"n":28,"v":4.6},{"p":6,"n":28,"v":4.75},{"p":6,"n":28,"v":4.95},
{"p":6,"n":29,"v":5.5},{"p":6,"n":29,"v":5.9},{"p":6,"n":29,"v":6.7},{"p":6,"n":29,"v":7.62},
{"p":6,"n":30,"v":5.2},{"p":6,"n":30,"v":5.3},{"p":6,"n":30,"v":6.55},{"p":6,"n":30,"v":6.72},
{"p":7,"n":10,"v":0.5},{"p":7,"n":10,"v":1.5},
{"p":7,"n":11,"v":0.5},{"p":7,"n":11,"v":1.5},{"p":7,"n":11,"v":2.0},
{"p":7,"n":12,"v":0.5},{"p":7,"n":12,"v":1.5},{"p":7,"n":12,"v":2.2},
{"p":7,"n":13,"v":0.5},{"p":7,"n":13,"v":1.5},{"p":7,"n":13,"v":2.3},
{"p":7,"n":14,"v":0.5},{"p":7,"n":14,"v":1.5},{"p":7,"n":14,"v":2.5},
{"p":7,"n":15,"v":0.5},{"p":7,"n":15,"v":1.5},{"p":7,"n":15,"v":2.4},
{"p":7,"n":16,"v":1.5},{"p":7,"n":16,"v":2.0},{"p":7,"n":16,"v":2.8},
{"p":7,"n":17,"v":1.6},{"p":7,"n":17,"v":2.2},{"p":7,"n":17,"v":3.0},
{"p":7,"n":18,"v":2.0},{"p":7,"n":18,"v":2.5},{"p":7,"n":18,"v":3.2},{"p":7,"n":18,"v":3.8},
{"p":7,"n":19,"v":2.4},{"p":7,"n":19,"v":3.0},{"p":7,"n":19,"v":3.6},
{"p":7,"n":20,"v":3.0},{"p":7,"n":20,"v":3.6},{"p":7,"n":20,"v":4.2},{"p":7,"n":20,"v":4.8},
{"p":7,"n":21,"v":3.5},{"p":7,"n":21,"v":4.0},{"p":7,"n":21,"v":4.5},
{"p":7,"n":22,"v":4.5},{"p":7,"n":22,"v":5.0},{"p":7,"n":22,"v":5.5},{"p":7,"n":22,"v":6.0},
{"p":7,"n":23,"v":6.0},{"p":7,"n":23,"v":6.8},{"p":7,"n":23,"v":7.6},
{"p":7,"n":24,"v":7.5},{"p":7,"n":24,"v":8.2},{"p":7,"n":24,"v":9.0},
{"p":7,"n":25,"v":11.0},{"p":7,"n":25,"v":12.0},
{"p":7,"n":26,"v":17.0},{"p":7,"n":26,"v":19.5},
{"p":7,"n":27,"v":29.5},{"p":7,"n":27,"v":30.5},
{"p":7,"n":29,"v":81.5},{"p":7,"n":29,"v":83.0},{"p":7,"n":29,"v":84.0},
{"p":7,"n":30,"v":137.0},{"p":7,"n":30,"v":142.0},{"p":7,"n":30,"v":144.0},{"p":7,"n":30,"v":145.5},
{"p":8,"n":10,"v":0.5},{"p":8,"n":10,"v":1.0},{"p":8,"n":10,"v":1.8},
{"p":8,"n":11,"v":0.5},{"p":8,"n":11,"v":1.2},{"p":8,"n":11,"v":2.0},{"p":8,"n":11,"v":2.2},
{"p":8,"n":12,"v":0.5},{"p":8,"n":12,"v":1.2},{"p":8,"n":12,"v":2.0},
{"p":8,"n":13,"v":0.5},{"p":8,"n":13,"v":1.5},{"p":8,"n":13,"v":2.3},{"p":8,"n":13,"v":2.9},
{"p":8,"n":14,"v":0.5},{"p":8,"n":14,"v":1.2},{"p":8,"n":14,"v":2.2},
{"p":8,"n":15,"v":0.5},{"p":8,"n":15,"v":1.5},{"p":8,"n":15,"v":2.0},
{"p":8,"n":16,"v":1.2},{"p":8,"n":16,"v":2.0},{"p":8,"n":16,"v":2.8},
{"p":8,"n":17,"v":1.5},{"p":8,"n":17,"v":2.2},{"p":8,"n":17,"v":2.8},{"p":8,"n":17,"v":3.3},
{"p":8,"n":18,"v":2.5},{"p":8,"n":20,"v":3.1},{"p":8,"n":21,"v":3.85},
{"p":8,"n":24,"v":5.5},{"p":8,"n":24,"v":6.0},{"p":8,"n":24,"v":6.5},{"p":8,"n":24,"v":7.0},{"p":8,"n":24,"v":7.5},{"p":8,"n":24,"v":8.0},
{"p":8,"n":25,"v":7.2},{"p":8,"n":25,"v":7.6},{"p":8,"n":25,"v":8.0},{"p":8,"n":25,"v":8.4},{"p":8,"n":25,"v":8.8},{"p":8,"n":25,"v":9.1},
{"p":8,"n":28,"v":18.5},{"p":8,"n":28,"v":21.3},
{"p":8,"n":29,"v":25.1},{"p":8,"n":29,"v":27.8},{"p":8,"n":29,"v":28.5},{"p":8,"n":29,"v":12.35},
{"p":8,"n":30,"v":41.2},{"p":8,"n":30,"v":42.3},{"p":8,"n":30,"v":44.8},{"p":8,"n":30,"v":48.5},{"p":8,"n":30,"v":53.3}
]
},
"concat": [
{"width": 285, "height": 263,
 "title": {"text": "non − spatial evolution", "subtitle": ["global confinement = 0", "local confinement = 0"]},
 "encoding": {"x": {"field": "n", "type": "ordinal", "scale": {"domain": [10,11,12,13,14,15,16,17,18,19,20,21,22,23,24,25,26,27,28,29,30], "paddingInner": 0.2, "paddingOuter": 0.1}, "axis": {"values": [10,14,18,22,26,30], "labels": false, "title": null}}},
 "layer": [
  {"data": {"name": "boxes"}, "transform": [{"filter": "datum.p == 1"}], "mark": {"type": "rule", "color": "#333333", "strokeWidth": 1.5}, "encoding": {"y": {"field": "lo", "type": "quantitative", "scale": {"domain": [0.919, 3.1], "nice": false, "zero": false}, "axis": {"values": [1,1.25,1.5,1.75,2,2.25,2.5,2.75,3], "tickCount": 30, "labelOverlap": false, "format": ".2f"}, "title": "mean drivers per cell"}, "y2": {"field": "hi"}}},
  {"data": {"name": "boxes"}, "transform": [{"filter": "datum.p == 1"}], "mark": {"type": "tick", "color": "#333333", "thickness": 1.5, "size": 6.5}, "encoding": {"y": {"field": "lo", "type": "quantitative", "title": "mean drivers per cell"}}},
  {"data": {"name": "boxes"}, "transform": [{"filter": "datum.p == 1"}], "mark": {"type": "tick", "color": "#333333", "thickness": 1.5, "size": 6.5}, "encoding": {"y": {"field": "hi", "type": "quantitative", "title": "mean drivers per cell"}}},
  {"data": {"name": "boxes"}, "transform": [{"filter": "datum.p == 1"}], "mark": {"type": "bar", "stroke": "#3d3d3d", "strokeWidth": 1.5}, "encoding": {"y": {"field": "q1", "type": "quantitative", "title": "mean drivers per cell"}, "y2": {"field": "q3"}, "fill": {"field": "n", "type": "ordinal", "scale": {"domain": [10,11,12,13,14,15,16,17,18,19,20,21,22,23,24,25,26,27,28,29,30], "range": ["#441b5a","#482b68","#4b3973","#4a477c","#475280","#435a81","#3e6382","#3a6b82","#367381","#327a81","#2f837f","#2e8b7e","#32957d","#3ca07a","#4cab76","#61b671","#75be69","#88c35b","#9dc64b","#b3c83b","#c9ca33"]}, "legend": null}}},
  {"data": {"name": "boxes"}, "transform": [{"filter": "datum.p == 1"}], "mark": {"type": "tick", "color": "#3d3d3d", "thickness": 1.5, "size": 10.8}, "encoding": {"y": {"field": "md", "type": "quantitative", "title": "mean drivers per cell"}}},
  {"data": {"name": "out"}, "transform": [{"filter": "datum.p == 1"}], "mark": {"type": "point", "shape": "M0,-1L0.66,0L0,1L-0.66,0Z", "filled": true, "color": "#262626", "size": 81, "opacity": 1}, "encoding": {"y": {"field": "v", "type": "quantitative", "title": "mean drivers per cell"}}}
 ]},
{"width": 285, "height": 263,
 "title": {"text": "linear evolution", "subtitle": ["global confinement = 0.5", "local confinement = 0"]},
 "encoding": {"x": {"field": "n", "type": "ordinal", "scale": {"domain": [10,11,12,13,14,15,16,17,18,19,20,21,22,23,24,25,26,27,28,29,30], "paddingInner": 0.2, "paddingOuter": 0.1}, "axis": {"values": [10,14,18,22,26,30], "labels": false, "title": null}}},
 "layer": [
  {"data": {"name": "boxes"}, "transform": [{"filter": "datum.p == 2"}], "mark": {"type": "rule", "color": "#333333", "strokeWidth": 1.5}, "encoding": {"y": {"field": "lo", "type": "quantitative", "scale": {"domain": [0.733, 7.714], "nice": false, "zero": false}, "axis": {"values": [1,2,3,4,5,6,7], "tickCount": 30, "labelOverlap": false, "format": "d"}, "title": null}, "y2": {"field": "hi"}}},
  {"data": {"name": "boxes"}, "transform": [{"filter": "datum.p == 2"}], "mark": {"type": "tick", "color": "#333333", "thickness": 1.5, "size": 6.5}, "encoding": {"y": {"field": "lo", "type": "quantitative", "title": null}}},
  {"data": {"name": "boxes"}, "transform": [{"filter": "datum.p == 2"}], "mark": {"type": "tick", "color": "#333333", "thickness": 1.5, "size": 6.5}, "encoding": {"y": {"field": "hi", "type": "quantitative", "title": null}}},
  {"data": {"name": "boxes"}, "transform": [{"filter": "datum.p == 2"}], "mark": {"type": "bar", "stroke": "#3d3d3d", "strokeWidth": 1.5}, "encoding": {"y": {"field": "q1", "type": "quantitative", "title": null}, "y2": {"field": "q3"}, "fill": {"field": "n", "type": "ordinal", "scale": {"domain": [10,11,12,13,14,15,16,17,18,19,20,21,22,23,24,25,26,27,28,29,30], "range": ["#441b5a","#482b68","#4b3973","#4a477c","#475280","#435a81","#3e6382","#3a6b82","#367381","#327a81","#2f837f","#2e8b7e","#32957d","#3ca07a","#4cab76","#61b671","#75be69","#88c35b","#9dc64b","#b3c83b","#c9ca33"]}, "legend": null}}},
  {"data": {"name": "boxes"}, "transform": [{"filter": "datum.p == 2"}], "mark": {"type": "tick", "color": "#3d3d3d", "thickness": 1.5, "size": 10.8}, "encoding": {"y": {"field": "md", "type": "quantitative", "title": null}}},
  {"data": {"name": "out"}, "transform": [{"filter": "datum.p == 2"}], "mark": {"type": "point", "shape": "M0,-1L0.66,0L0,1L-0.66,0Z", "filled": true, "color": "#262626", "size": 81, "opacity": 1}, "encoding": {"y": {"field": "v", "type": "quantitative", "title": null}}}
 ]},
{"width": 285, "height": 263,
 "title": {"text": "branched evolution", "subtitle": ["global confinement = 0", "local confinement = 0.0625"], "dy": 3},
 "encoding": {"x": {"field": "n", "type": "ordinal", "scale": {"domain": [10,11,12,13,14,15,16,17,18,19,20,21,22,23,24,25,26,27,28,29,30], "paddingInner": 0.2, "paddingOuter": 0.1}, "axis": {"values": [10,14,18,22,26,30], "labels": false, "title": null}}},
 "layer": [
  {"data": {"name": "boxes"}, "transform": [{"filter": "datum.p == 3"}], "mark": {"type": "rule", "color": "#333333", "strokeWidth": 1.5}, "encoding": {"y": {"field": "lo", "type": "quantitative", "scale": {"domain": [0.869, 4.548], "nice": false, "zero": false}, "axis": {"values": [1,1.5,2,2.5,3,3.5,4,4.5], "tickCount": 30, "labelOverlap": false, "format": ".1f"}, "title": null}, "y2": {"field": "hi"}}},
  {"data": {"name": "boxes"}, "transform": [{"filter": "datum.p == 3"}], "mark": {"type": "tick", "color": "#333333", "thickness": 1.5, "size": 6.5}, "encoding": {"y": {"field": "lo", "type": "quantitative", "title": null}}},
  {"data": {"name": "boxes"}, "transform": [{"filter": "datum.p == 3"}], "mark": {"type": "tick", "color": "#333333", "thickness": 1.5, "size": 6.5}, "encoding": {"y": {"field": "hi", "type": "quantitative", "title": null}}},
  {"data": {"name": "boxes"}, "transform": [{"filter": "datum.p == 3"}], "mark": {"type": "bar", "stroke": "#3d3d3d", "strokeWidth": 1.5}, "encoding": {"y": {"field": "q1", "type": "quantitative", "title": null}, "y2": {"field": "q3"}, "fill": {"field": "n", "type": "ordinal", "scale": {"domain": [10,11,12,13,14,15,16,17,18,19,20,21,22,23,24,25,26,27,28,29,30], "range": ["#441b5a","#482b68","#4b3973","#4a477c","#475280","#435a81","#3e6382","#3a6b82","#367381","#327a81","#2f837f","#2e8b7e","#32957d","#3ca07a","#4cab76","#61b671","#75be69","#88c35b","#9dc64b","#b3c83b","#c9ca33"]}, "legend": null}}},
  {"data": {"name": "boxes"}, "transform": [{"filter": "datum.p == 3"}], "mark": {"type": "tick", "color": "#3d3d3d", "thickness": 1.5, "size": 10.8}, "encoding": {"y": {"field": "md", "type": "quantitative", "title": null}}},
  {"data": {"name": "out"}, "transform": [{"filter": "datum.p == 3"}], "mark": {"type": "point", "shape": "M0,-1L0.66,0L0,1L-0.66,0Z", "filled": true, "color": "#262626", "size": 81, "opacity": 1}, "encoding": {"y": {"field": "v", "type": "quantitative", "title": null}}}
 ]},
{"width": 285, "height": 263,
 "title": {"text": ["linear − to − branched", "evolution"], "subtitle": ["global confinement = 0.5", "local confinement = 0.25"]},
 "encoding": {"x": {"field": "n", "type": "ordinal", "scale": {"domain": [10,11,12,13,14,15,16,17,18,19,20,21,22,23,24,25,26,27,28,29,30], "paddingInner": 0.2, "paddingOuter": 0.1}, "axis": {"values": [10,14,18,22,26,30], "labels": false, "title": null}}},
 "layer": [
  {"data": {"name": "boxes"}, "transform": [{"filter": "datum.p == 4"}], "mark": {"type": "rule", "color": "#333333", "strokeWidth": 1.5}, "encoding": {"y": {"field": "lo", "type": "quantitative", "scale": {"domain": [0.69, 9.41], "nice": false, "zero": false}, "axis": {"values": [1,2,3,4,5,6,7,8,9], "tickCount": 30, "labelOverlap": false, "format": "d"}, "title": null}, "y2": {"field": "hi"}}},
  {"data": {"name": "boxes"}, "transform": [{"filter": "datum.p == 4"}], "mark": {"type": "tick", "color": "#333333", "thickness": 1.5, "size": 6.5}, "encoding": {"y": {"field": "lo", "type": "quantitative", "title": null}}},
  {"data": {"name": "boxes"}, "transform": [{"filter": "datum.p == 4"}], "mark": {"type": "tick", "color": "#333333", "thickness": 1.5, "size": 6.5}, "encoding": {"y": {"field": "hi", "type": "quantitative", "title": null}}},
  {"data": {"name": "boxes"}, "transform": [{"filter": "datum.p == 4"}], "mark": {"type": "bar", "stroke": "#3d3d3d", "strokeWidth": 1.5}, "encoding": {"y": {"field": "q1", "type": "quantitative", "title": null}, "y2": {"field": "q3"}, "fill": {"field": "n", "type": "ordinal", "scale": {"domain": [10,11,12,13,14,15,16,17,18,19,20,21,22,23,24,25,26,27,28,29,30], "range": ["#441b5a","#482b68","#4b3973","#4a477c","#475280","#435a81","#3e6382","#3a6b82","#367381","#327a81","#2f837f","#2e8b7e","#32957d","#3ca07a","#4cab76","#61b671","#75be69","#88c35b","#9dc64b","#b3c83b","#c9ca33"]}, "legend": null}}},
  {"data": {"name": "boxes"}, "transform": [{"filter": "datum.p == 4"}], "mark": {"type": "tick", "color": "#3d3d3d", "thickness": 1.5, "size": 10.8}, "encoding": {"y": {"field": "md", "type": "quantitative", "title": null}}},
  {"data": {"name": "out"}, "transform": [{"filter": "datum.p == 4"}], "mark": {"type": "point", "shape": "M0,-1L0.66,0L0,1L-0.66,0Z", "filled": true, "color": "#262626", "size": 81, "opacity": 1}, "encoding": {"y": {"field": "v", "type": "quantitative", "title": null}}}
 ]},
{"width": 285, "height": 263,
 "encoding": {"x": {"field": "n", "type": "ordinal", "scale": {"domain": [10,11,12,13,14,15,16,17,18,19,20,21,22,23,24,25,26,27,28,29,30], "paddingInner": 0.2, "paddingOuter": 0.1}, "axis": {"values": [10,14,18,22,26,30], "labelAngle": 0, "labelFont": "DejaVu Sans", "labelFontSize": 17, "labelExpr": "datum.value == 10 ? '2¹⁰' : datum.value == 14 ? '2¹⁴' : datum.value == 18 ? '2¹⁸' : datum.value == 22 ? '2²²' : datum.value == 26 ? '2²⁶' : '2³⁰'", "title": "population size"}}},
 "layer": [
  {"data": {"name": "boxes"}, "transform": [{"filter": "datum.p == 5"}], "mark": {"type": "rule", "color": "#333333", "strokeWidth": 1.5}, "encoding": {"y": {"field": "lo", "type": "quantitative", "scale": {"domain": [0.68, 7.68], "nice": false, "zero": false}, "axis": {"values": [1,2,3,4,5,6,7], "tickCount": 30, "labelOverlap": false, "format": "d"}, "title": "clonal diversity"}, "y2": {"field": "hi"}}},
  {"data": {"name": "boxes"}, "transform": [{"filter": "datum.p == 5"}], "mark": {"type": "tick", "color": "#333333", "thickness": 1.5, "size": 6.5}, "encoding": {"y": {"field": "lo", "type": "quantitative", "title": "clonal diversity"}}},
  {"data": {"name": "boxes"}, "transform": [{"filter": "datum.p == 5"}], "mark": {"type": "tick", "color": "#333333", "thickness": 1.5, "size": 6.5}, "encoding": {"y": {"field": "hi", "type": "quantitative", "title": "clonal diversity"}}},
  {"data": {"name": "boxes"}, "transform": [{"filter": "datum.p == 5"}], "mark": {"type": "bar", "stroke": "#3d3d3d", "strokeWidth": 1.5}, "encoding": {"y": {"field": "q1", "type": "quantitative", "title": "clonal diversity"}, "y2": {"field": "q3"}, "fill": {"field": "n", "type": "ordinal", "scale": {"domain": [10,11,12,13,14,15,16,17,18,19,20,21,22,23,24,25,26,27,28,29,30], "range": ["#441b5a","#482b68","#4b3973","#4a477c","#475280","#435a81","#3e6382","#3a6b82","#367381","#327a81","#2f837f","#2e8b7e","#32957d","#3ca07a","#4cab76","#61b671","#75be69","#88c35b","#9dc64b","#b3c83b","#c9ca33"]}, "legend": null}}},
  {"data": {"name": "boxes"}, "transform": [{"filter": "datum.p == 5"}], "mark": {"type": "tick", "color": "#3d3d3d", "thickness": 1.5, "size": 10.8}, "encoding": {"y": {"field": "md", "type": "quantitative", "title": "clonal diversity"}}},
  {"data": {"name": "out"}, "transform": [{"filter": "datum.p == 5"}], "mark": {"type": "point", "shape": "M0,-1L0.66,0L0,1L-0.66,0Z", "filled": true, "color": "#262626", "size": 81, "opacity": 1}, "encoding": {"y": {"field": "v", "type": "quantitative", "title": "clonal diversity"}}}
 ]},
{"width": 285, "height": 263,
 "encoding": {"x": {"field": "n", "type": "ordinal", "scale": {"domain": [10,11,12,13,14,15,16,17,18,19,20,21,22,23,24,25,26,27,28,29,30], "paddingInner": 0.2, "paddingOuter": 0.1}, "axis": {"values": [10,14,18,22,26,30], "labelAngle": 0, "labelFont": "DejaVu Sans", "labelFontSize": 17, "labelExpr": "datum.value == 10 ? '2¹⁰' : datum.value == 14 ? '2¹⁴' : datum.value == 18 ? '2¹⁸' : datum.value == 22 ? '2²²' : datum.value == 26 ? '2²⁶' : '2³⁰'", "title": "population size"}}},
 "layer": [
  {"data": {"name": "boxes"}, "transform": [{"filter": "datum.p == 6"}], "mark": {"type": "rule", "color": "#333333", "strokeWidth": 1.5}, "encoding": {"y": {"field": "lo", "type": "quantitative", "scale": {"domain": [0.53, 10.66], "nice": false, "zero": false}, "axis": {"values": [2,4,6,8,10], "tickCount": 30, "labelOverlap": false, "format": "d"}, "title": null}, "y2": {"field": "hi"}}},
  {"data": {"name": "boxes"}, "transform": [{"filter": "datum.p == 6"}], "mark": {"type": "tick", "color": "#333333", "thickness": 1.5, "size": 6.5}, "encoding": {"y": {"field": "lo", "type": "quantitative", "title": null}}},
  {"data": {"name": "boxes"}, "transform": [{"filter": "datum.p == 6"}], "mark": {"type": "tick", "color": "#333333", "thickness": 1.5, "size": 6.5}, "encoding": {"y": {"field": "hi", "type": "quantitative", "title": null}}},
  {"data": {"name": "boxes"}, "transform": [{"filter": "datum.p == 6"}], "mark": {"type": "bar", "stroke": "#3d3d3d", "strokeWidth": 1.5}, "encoding": {"y": {"field": "q1", "type": "quantitative", "title": null}, "y2": {"field": "q3"}, "fill": {"field": "n", "type": "ordinal", "scale": {"domain": [10,11,12,13,14,15,16,17,18,19,20,21,22,23,24,25,26,27,28,29,30], "range": ["#441b5a","#482b68","#4b3973","#4a477c","#475280","#435a81","#3e6382","#3a6b82","#367381","#327a81","#2f837f","#2e8b7e","#32957d","#3ca07a","#4cab76","#61b671","#75be69","#88c35b","#9dc64b","#b3c83b","#c9ca33"]}, "legend": null}}},
  {"data": {"name": "boxes"}, "transform": [{"filter": "datum.p == 6"}], "mark": {"type": "tick", "color": "#3d3d3d", "thickness": 1.5, "size": 10.8}, "encoding": {"y": {"field": "md", "type": "quantitative", "title": null}}},
  {"data": {"name": "out"}, "transform": [{"filter": "datum.p == 6"}], "mark": {"type": "point", "shape": "M0,-1L0.66,0L0,1L-0.66,0Z", "filled": true, "color": "#262626", "size": 81, "opacity": 1}, "encoding": {"y": {"field": "v", "type": "quantitative", "title": null}}}
 ]},
{"width": 285, "height": 263,
 "encoding": {"x": {"field": "n", "type": "ordinal", "scale": {"domain": [10,11,12,13,14,15,16,17,18,19,20,21,22,23,24,25,26,27,28,29,30], "paddingInner": 0.2, "paddingOuter": 0.1}, "axis": {"values": [10,14,18,22,26,30], "labelAngle": 0, "labelFont": "DejaVu Sans", "labelFontSize": 17, "labelExpr": "datum.value == 10 ? '2¹⁰' : datum.value == 14 ? '2¹⁴' : datum.value == 18 ? '2¹⁸' : datum.value == 22 ? '2²²' : datum.value == 26 ? '2²⁶' : '2³⁰'", "title": "population size"}}},
 "layer": [
  {"data": {"name": "boxes"}, "transform": [{"filter": "datum.p == 7"}], "mark": {"type": "rule", "color": "#333333", "strokeWidth": 1.5}, "encoding": {"y": {"field": "lo", "type": "quantitative", "scale": {"domain": [-6.2, 152.6], "nice": false, "zero": false}, "axis": {"values": [0,20,40,60,80,100,120,140], "tickCount": 30, "labelOverlap": false, "format": "d"}, "title": null}, "y2": {"field": "hi"}}},
  {"data": {"name": "boxes"}, "transform": [{"filter": "datum.p == 7"}], "mark": {"type": "tick", "color": "#333333", "thickness": 1.5, "size": 6.5}, "encoding": {"y": {"field": "lo", "type": "quantitative", "title": null}}},
  {"data": {"name": "boxes"}, "transform": [{"filter": "datum.p == 7"}], "mark": {"type": "tick", "color": "#333333", "thickness": 1.5, "size": 6.5}, "encoding": {"y": {"field": "hi", "type": "quantitative", "title": null}}},
  {"data": {"name": "boxes"}, "transform": [{"filter": "datum.p == 7"}], "mark": {"type": "bar", "stroke": "#3d3d3d", "strokeWidth": 1.5}, "encoding": {"y": {"field": "q1", "type": "quantitative", "title": null}, "y2": {"field": "q3"}, "fill": {"field": "n", "type": "ordinal", "scale": {"domain": [10,11,12,13,14,15,16,17,18,19,20,21,22,23,24,25,26,27,28,29,30], "range": ["#441b5a","#482b68","#4b3973","#4a477c","#475280","#435a81","#3e6382","#3a6b82","#367381","#327a81","#2f837f","#2e8b7e","#32957d","#3ca07a","#4cab76","#61b671","#75be69","#88c35b","#9dc64b","#b3c83b","#c9ca33"]}, "legend": null}}},
  {"data": {"name": "boxes"}, "transform": [{"filter": "datum.p == 7"}], "mark": {"type": "tick", "color": "#3d3d3d", "thickness": 1.5, "size": 10.8}, "encoding": {"y": {"field": "md", "type": "quantitative", "title": null}}},
  {"data": {"name": "out"}, "transform": [{"filter": "datum.p == 7"}], "mark": {"type": "point", "shape": "M0,-1L0.66,0L0,1L-0.66,0Z", "filled": true, "color": "#262626", "size": 81, "opacity": 1}, "encoding": {"y": {"field": "v", "type": "quantitative", "title": null}}}
 ]},
{"width": 285, "height": 263,
 "encoding": {"x": {"field": "n", "type": "ordinal", "scale": {"domain": [10,11,12,13,14,15,16,17,18,19,20,21,22,23,24,25,26,27,28,29,30], "paddingInner": 0.2, "paddingOuter": 0.1}, "axis": {"values": [10,14,18,22,26,30], "labelAngle": 0, "labelFont": "DejaVu Sans", "labelFontSize": 17, "labelExpr": "datum.value == 10 ? '2¹⁰' : datum.value == 14 ? '2¹⁴' : datum.value == 18 ? '2¹⁸' : datum.value == 22 ? '2²²' : datum.value == 26 ? '2²⁶' : '2³⁰'", "title": "population size"}}},
 "layer": [
  {"data": {"name": "boxes"}, "transform": [{"filter": "datum.p == 8"}], "mark": {"type": "rule", "color": "#333333", "strokeWidth": 1.5}, "encoding": {"y": {"field": "lo", "type": "quantitative", "scale": {"domain": [-1.7, 56], "nice": false, "zero": false}, "axis": {"values": [0,10,20,30,40,50], "tickCount": 30, "labelOverlap": false, "format": "d"}, "title": null}, "y2": {"field": "hi"}}},
  {"data": {"name": "boxes"}, "transform": [{"filter": "datum.p == 8"}], "mark": {"type": "tick", "color": "#333333", "thickness": 1.5, "size": 6.5}, "encoding": {"y": {"field": "lo", "type": "quantitative", "title": null}}},
  {"data": {"name": "boxes"}, "transform": [{"filter": "datum.p == 8"}], "mark": {"type": "tick", "color": "#333333", "thickness": 1.5, "size": 6.5}, "encoding": {"y": {"field": "hi", "type": "quantitative", "title": null}}},
  {"data": {"name": "boxes"}, "transform": [{"filter": "datum.p == 8"}], "mark": {"type": "bar", "stroke": "#3d3d3d", "strokeWidth": 1.5}, "encoding": {"y": {"field": "q1", "type": "quantitative", "title": null}, "y2": {"field": "q3"}, "fill": {"field": "n", "type": "ordinal", "scale": {"domain": [10,11,12,13,14,15,16,17,18,19,20,21,22,23,24,25,26,27,28,29,30], "range": ["#441b5a","#482b68","#4b3973","#4a477c","#475280","#435a81","#3e6382","#3a6b82","#367381","#327a81","#2f837f","#2e8b7e","#32957d","#3ca07a","#4cab76","#61b671","#75be69","#88c35b","#9dc64b","#b3c83b","#c9ca33"]}, "legend": null}}},
  {"data": {"name": "boxes"}, "transform": [{"filter": "datum.p == 8"}], "mark": {"type": "tick", "color": "#3d3d3d", "thickness": 1.5, "size": 10.8}, "encoding": {"y": {"field": "md", "type": "quantitative", "title": null}}},
  {"data": {"name": "out"}, "transform": [{"filter": "datum.p == 8"}], "mark": {"type": "point", "shape": "M0,-1L0.66,0L0,1L-0.66,0Z", "filled": true, "color": "#262626", "size": 81, "opacity": 1}, "encoding": {"y": {"field": "v", "type": "quantitative", "title": null}}}
 ]}
]
}
